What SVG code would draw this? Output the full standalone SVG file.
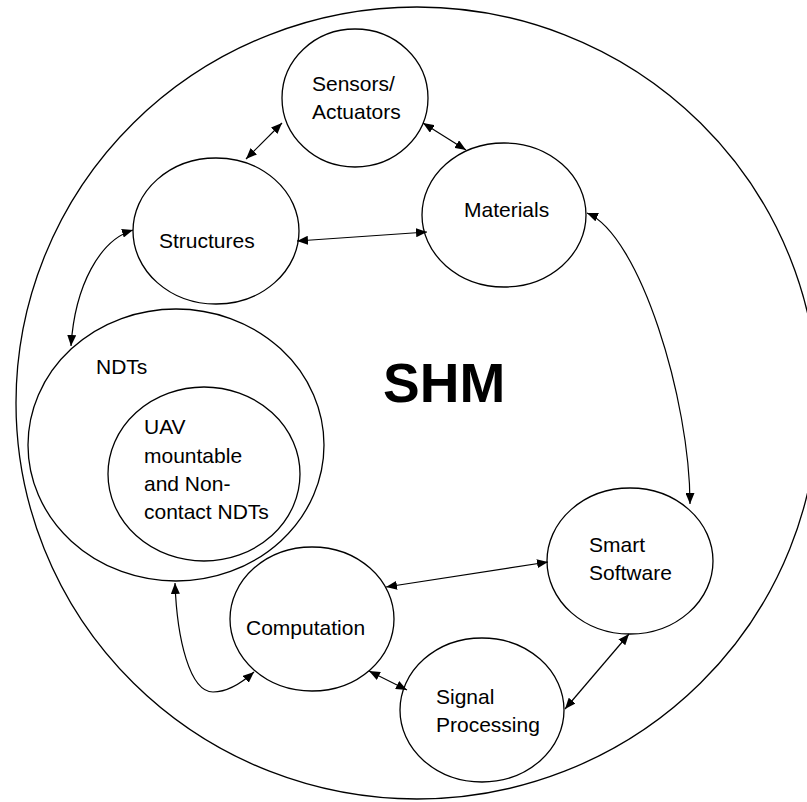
<svg xmlns="http://www.w3.org/2000/svg" width="807" height="802" viewBox="0 0 807 802">
<style>
.n{fill:#fff;stroke:#000;stroke-width:1.3}
.t{font-family:"Liberation Sans",Arial,sans-serif;font-size:21px;fill:#000}
.c{fill:none;stroke:#000;stroke-width:1.2;marker-start:url(#ah);marker-end:url(#ah)}
</style>
<defs>
<marker id="ah" markerUnits="userSpaceOnUse" markerWidth="11" markerHeight="9" refX="11" refY="4.5" orient="auto-start-reverse">
<path d="M0,0 L11,4.5 L0,9 z" fill="#000"/>
</marker>
</defs>
<rect width="807" height="802" fill="#fff"/>
<g id="shm">
<ellipse class="n" cx="417" cy="403" rx="401" ry="396" fill="none"/>
<text x="383" y="402" style="font-family:'Liberation Sans',Arial,sans-serif;font-weight:bold;font-size:55px">SHM</text>
</g>
<g id="sensors">
<ellipse class="n" cx="355" cy="98" rx="73" ry="69"/>
<text class="t" x="312" y="91">Sensors/</text>
<text class="t" x="312" y="119">Actuators</text>
</g>
<g id="structures">
<ellipse class="n" cx="216" cy="231" rx="83" ry="73"/>
<text class="t" x="159" y="248">Structures</text>
</g>
<g id="materials">
<ellipse class="n" cx="504" cy="215" rx="82" ry="72"/>
<text class="t" x="464" y="217">Materials</text>
</g>
<g id="ndts">
<ellipse class="n" cx="176" cy="445" rx="148" ry="136"/>
<text class="t" x="96" y="374">NDTs</text>
</g>
<g id="uav">
<ellipse class="n" cx="204" cy="474" rx="96" ry="87"/>
<text class="t" x="144" y="434">UAV</text>
<text class="t" x="144" y="463">mountable</text>
<text class="t" x="144" y="491">and Non-</text>
<text class="t" x="144" y="519">contact NDTs</text>
</g>
<g id="computation">
<ellipse class="n" cx="312" cy="619" rx="82" ry="72"/>
<text class="t" x="246" y="635">Computation</text>
</g>
<g id="signal">
<ellipse class="n" cx="482" cy="710" rx="82" ry="72"/>
<text class="t" x="436" y="704">Signal</text>
<text class="t" x="436" y="732">Processing</text>
</g>
<g id="smart">
<ellipse class="n" cx="630" cy="561" rx="83" ry="73"/>
<text class="t" x="589" y="552">Smart</text>
<text class="t" x="589" y="580">Software</text>
</g>
<g id="connectors">
<path class="c" d="M246,159 L282,123"/>
<path class="c" d="M423,123 L466,150"/>
<path class="c" d="M297,241 L427,232"/>
<path class="c" d="M133,230 C100,240 75,285 71,346"/>
<path class="c" d="M587,213 C640,235 690,400 690,504"/>
<path class="c" d="M386,587 L548,562"/>
<path class="c" d="M369,671 L407,690"/>
<path class="c" d="M565,709 L629,634"/>
<path class="c" d="M175,583 C177,640 190,692 213,692 C230,692 245,680 254,672"/>
</g>
</svg>
